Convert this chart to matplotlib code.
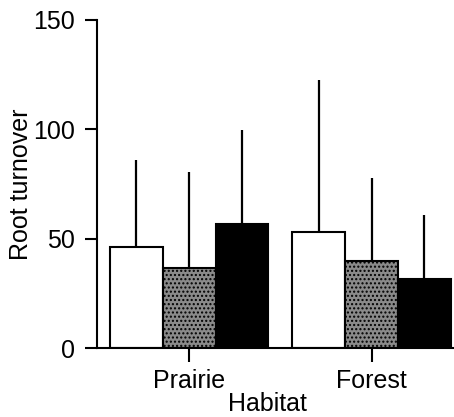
import matplotlib
matplotlib.use("Agg")
import matplotlib.pyplot as plt
import numpy as np

plt.rcParams['font.family'] = ['Liberation Sans', 'DejaVu Sans']
plt.rcParams['hatch.color'] = 'white'
plt.rcParams['hatch.linewidth'] = 1.0

habitats = ["Prairie", "Forest"]
means = {
    "white": [46.2, 53.0],
    "grey": [36.6, 39.8],
    "black": [56.7, 31.5],
}
upper = {
    "white": [86.0, 122.5],
    "grey": [80.5, 77.7],
    "black": [99.7, 60.8],
}

fig = plt.figure(figsize=(4.54, 4.17), dpi=100)
ax = fig.add_axes([97/454, 1-348/417, 357/454, 328/417])

centers = np.array([0.0, 3.45])
width = 1.0
styles = [
    ("white", dict(facecolor="white", hatch=None), -1),
    ("grey", dict(facecolor="#8a8a8a", hatch="...."), 0),
    ("black", dict(facecolor="black", hatch=None), 1),
]
for key, st, off in styles:
    xs = centers + off * width
    ax.vlines(xs, means[key], upper[key], color="black", lw=1.6, zorder=1)
    ax.bar(xs, means[key], width=width, edgecolor="black", linewidth=1.5,
           zorder=2, **st)

ax.set_xlim(-1.745, 5.01)
ax.set_ylim(0, 150)
ax.set_yticks([0, 50, 100, 150])
ax.set_xticks(centers)
ax.set_xticklabels(habitats)
for s in ["top", "right"]:
    ax.spines[s].set_visible(False)
for s in ["left", "bottom"]:
    ax.spines[s].set_linewidth(1.5)
fs = 18
ax.tick_params(axis="y", direction="out", length=9, width=1.5, labelsize=fs, pad=7)
ax.tick_params(axis="x", direction="out", length=10, width=1.5, labelsize=fs, pad=5)
ax.set_xlabel("Habitat", fontsize=fs)
ax.xaxis.label.set_verticalalignment("bottom")
ax.xaxis.set_label_coords((267.5 - 97) / 357, -(417 - 348 - 1) / 328)
ax.set_ylabel("Root turnover", fontsize=fs)
ax.yaxis.set_label_coords(-(97 - 9) / 357, 0.5)
ax.yaxis.label.set_verticalalignment("top")

fig.savefig("out.png", dpi=100)
